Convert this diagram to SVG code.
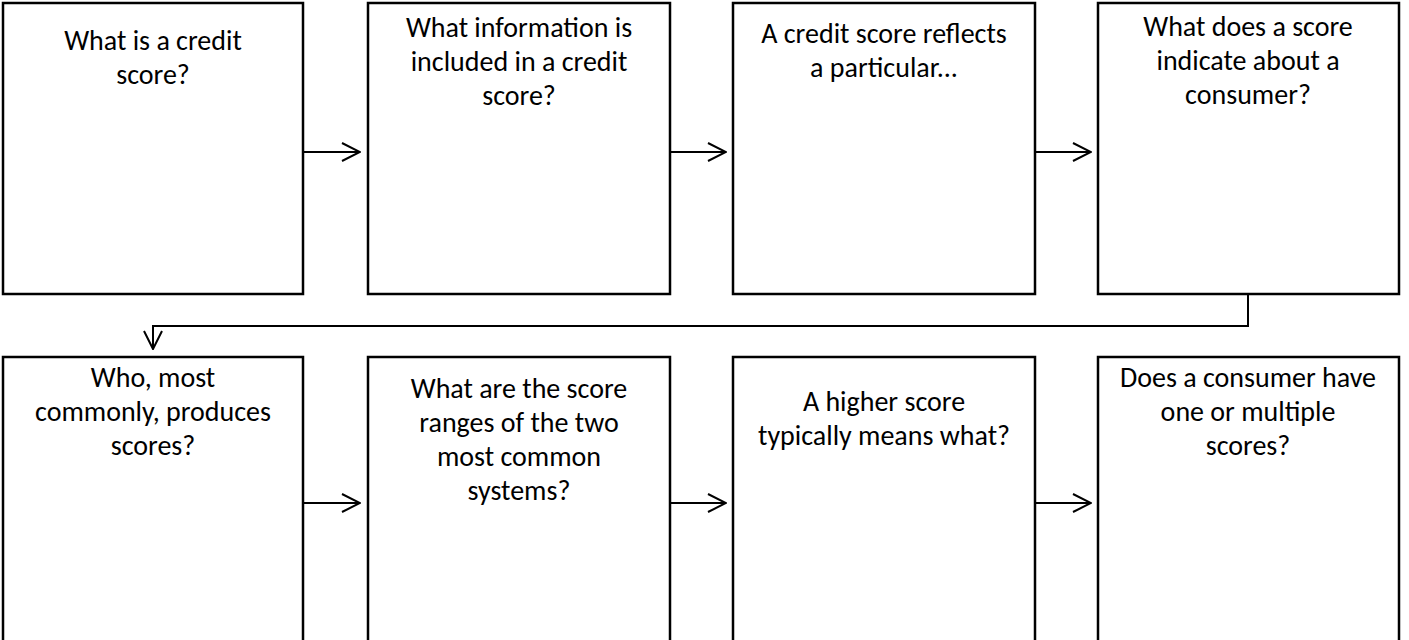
<svg xmlns="http://www.w3.org/2000/svg" width="1409" height="640" viewBox="0 0 1409 640">
<defs>
<style>
.box{fill:#fff;stroke:#000;stroke-width:2.5}
.lbl{font-family:Carlito,Calibri,Lato,"Liberation Sans",sans-serif;font-size:28px;fill:#000;text-anchor:middle}
.con{fill:none;stroke:#000;stroke-width:2}
</style>
<marker id="ah" viewBox="0 0 20 20" refX="19" refY="10" markerWidth="20" markerHeight="20" markerUnits="userSpaceOnUse" orient="auto">
<path d="M1,1 L19,10 L1,19" fill="none" stroke="#000" stroke-width="2"/>
</marker>
</defs>
<rect width="1409" height="640" fill="#fff"/>
<g id="n1"><rect class="box" x="3" y="3" width="300" height="291"/><text class="lbl" x="153" y="50">What is a credit</text><text class="lbl" x="153" y="84">score?</text></g>
<g id="n2"><rect class="box" x="368" y="3" width="302" height="291"/><text class="lbl" x="519" y="37">What information is</text><text class="lbl" x="519" y="71">included in a credit</text><text class="lbl" x="519" y="105">score?</text></g>
<g id="n3"><rect class="box" x="733" y="3" width="302" height="291"/><text class="lbl" x="884" y="43">A credit score reflects</text><text class="lbl" x="884" y="77">a particular...</text></g>
<g id="n4"><rect class="box" x="1098" y="3" width="301" height="291"/><text class="lbl" x="1248" y="36">What does a score</text><text class="lbl" x="1248" y="70">indicate about a</text><text class="lbl" x="1248" y="104">consumer?</text></g>
<g id="n5"><rect class="box" x="3" y="357" width="300" height="291"/><text class="lbl" x="153" y="387">Who, most</text><text class="lbl" x="153" y="421">commonly, produces</text><text class="lbl" x="153" y="455">scores?</text></g>
<g id="n6"><rect class="box" x="368" y="357" width="302" height="291"/><text class="lbl" x="519" y="398">What are the score</text><text class="lbl" x="519" y="432">ranges of the two</text><text class="lbl" x="519" y="466">most common</text><text class="lbl" x="519" y="500">systems?</text></g>
<g id="n7"><rect class="box" x="733" y="357" width="302" height="291"/><text class="lbl" x="884" y="411">A higher score</text><text class="lbl" x="884" y="445">typically means what?</text></g>
<g id="n8"><rect class="box" x="1098" y="357" width="301" height="291"/><text class="lbl" x="1248" y="387">Does a consumer have</text><text class="lbl" x="1248" y="421">one or multiple</text><text class="lbl" x="1248" y="455">scores?</text></g>
<g id="connectors">
<path class="con" d="M304,152 H360" marker-end="url(#ah)"/>
<path class="con" d="M671,152 H726" marker-end="url(#ah)"/>
<path class="con" d="M1036,152 H1091" marker-end="url(#ah)"/>
<path class="con" d="M1248,295 V326 H153 V349" marker-end="url(#ah)"/>
<path class="con" d="M304,503 H360" marker-end="url(#ah)"/>
<path class="con" d="M671,503 H726" marker-end="url(#ah)"/>
<path class="con" d="M1036,503 H1091" marker-end="url(#ah)"/>
</g>
</svg>
